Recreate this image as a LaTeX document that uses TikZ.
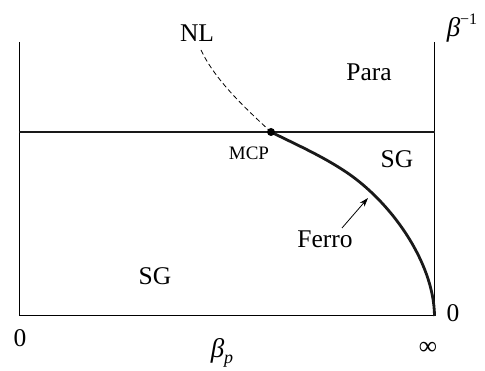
\documentclass[tikz,border=0pt]{standalone}
\usepackage{fontspec}
\setmainfont{Liberation Serif}
\usetikzlibrary{arrows.meta}
\tikzset{
  lab/.style={inner sep=0pt, anchor=base, font=\fontsize{25.5}{25.5}\selectfont},
  small/.style={inner sep=0pt, anchor=base, font=\fontsize{19}{19}\selectfont},
  frame/.style={line width=1pt, black},
  thick line/.style={line width=2.8pt, black!90},
  dashline/.style={dashed, dash pattern=on 5pt off 3pt, line width=0.8pt},
  pointer/.style={line width=0.8pt, -{Stealth[length=9pt,width=6pt]}}
}
\begin{document}
\begin{tikzpicture}[x=1pt,y=-1pt]
\useasboundingbox (0,0) rectangle (485,371);
% frame coordinates
\coordinate (lt) at (19,42);
\coordinate (lb) at (19,316);
\coordinate (rb) at (434.5,316);
\coordinate (rt) at (434.5,42);
\coordinate (hl) at (19,132);
\coordinate (hr) at (434.5,132);
\coordinate (mcp) at (271,132);
\coordinate (nlend) at (201,50);
\coordinate (fmid) at (343,170);
\coordinate (arrs) at (342,228);
\coordinate (arre) at (368,198);
\draw[frame] (lt) -- (lb) -- (rb) -- (rt);
\draw[thick line] (hl) -- (hr);
\draw[dashline] (nlend) .. controls (215,80) and (245,108) .. (mcp);
\draw[thick line] (mcp) .. controls (295,144) and (320,155) .. (fmid)
   .. controls (390,200) and (434,262) .. (rb);
\fill (mcp) circle (4pt);
\draw[pointer] (arrs) -- (arre);
% labels
\node[lab] (nl) at (197,42) {NL};
\node[lab] (para) at (369,81) {Para};
\node[lab] (sgr) at (397,168) {SG};
\node[lab] (sgl) at (155,285) {SG};
\node[lab] (ferro) at (325,248) {Ferro};
\node[small] (mcplab) at (249,160) {MCP};
\node[lab] (zl) at (20,347) {0};
\node[lab] (zr) at (453,322) {0};
\node[lab] (inf) at (428,355) {∞};
\node[inner sep=0pt, anchor=base] (bp) at (222,358) {{\fontsize{27}{27}\selectfont\itshape β}\raisebox{-6pt}{\fontsize{18}{18}\selectfont\itshape p}};
\node[inner sep=0pt, anchor=base] (bi) at (462,37) {{\fontsize{27}{27}\selectfont\itshape β}\raisebox{12pt}{\fontsize{16}{16}\selectfont −1}};
\end{tikzpicture}
\end{document}
